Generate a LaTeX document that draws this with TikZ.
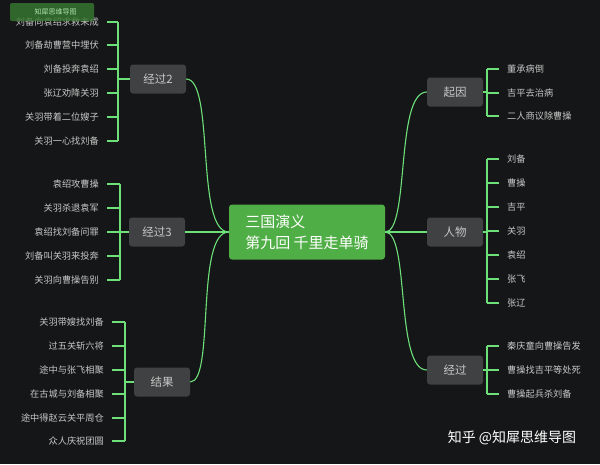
\documentclass[tikz,border=0pt]{standalone}
\usepackage{fontspec}
\setmainfont{Noto Sans CJK SC}
\usetikzlibrary{positioning}
\definecolor{bgdark}{HTML}{151617}
\definecolor{linegreen}{HTML}{6EE07A}
\definecolor{topicgray}{HTML}{404142}
\definecolor{maingreen}{HTML}{4FAE45}
\definecolor{leafgray}{HTML}{C8C8C8}
\tikzset{
  topic/.style={fill=topicgray, rounded corners=3pt, minimum width=56pt, minimum height=29pt, text=leafgray, font=\fontsize{11.5}{11.5}\selectfont},
  leaf/.style={text=leafgray, font=\fontsize{9.2}{9.5}\selectfont, inner sep=1pt},
  link/.style={draw=linegreen, line width=1.1pt},
}
\begin{document}
\begin{tikzpicture}[x=1pt, y=-1pt]
  \fill[bgdark] (0,0) rectangle (600,464);
  \useasboundingbox (0,0) rectangle (600,464);
  % centre
  \node[fill=maingreen, rounded corners=3pt, minimum width=156pt, minimum height=55pt, text=white, align=left, font=\fontsize{15}{21}\selectfont] (title) at (307,232) {三国演义\\第九回 千里走单骑};
  % topics
  \node[topic] (jg2) at (158,79) {经过2};
  \node[topic] (jg3) at (157,232) {经过3};
  \node[topic] (jieguo) at (162,382) {结果};
  \node[topic] (qiyin) at (455,92) {起因};
  \node[topic] (renwu) at (455,232) {人物};
  \node[topic] (jg) at (455,370) {经过};
  % main links
  \draw[link] (title.west) .. controls (195,232) and (215,79) .. (jg2.east);
  \draw[link] (title.west) -- (jg3.east);
  \draw[link] (title.west) .. controls (195,232) and (215,382) .. (jieguo.east);
  \draw[link] (title.east) .. controls (410,232) and (395,92) .. (qiyin.west);
  \draw[link] (title.east) -- (renwu.west);
  \draw[link] (title.east) .. controls (410,232) and (395,370) .. (jg.west);
  % left branches
  \foreach \topic/\bx/\tx/\list in {
      jg2/118/100/{22/刘备向袁绍求救未成,45/刘备劫曹营中埋伏,69/刘备投奔袁绍,93/张辽劝降关羽,117/关羽带着二位嫂子,141/关羽一心找刘备},
      jg3/120/100/{184/袁绍攻曹操,208/关羽杀退袁军,232/袁绍找刘备问罪,256/刘备叫关羽来投奔,280/关羽向曹操告别},
      jieguo/125/105/{322/关羽带嫂找刘备,346/过五关斩六将,370/途中与张飞相聚,394/在古城与刘备相聚,418/途中得赵云关平周仓,441/众人庆祝团圆}} {
    \coordinate (\topic-hub) at (\bx,0 |- \topic.west);
    \draw[link] (\topic.west) -- (\topic-hub);
    \foreach \y/\txt [count=\i] in \list {
      \node[leaf, anchor=east] (\topic-\i) at (\tx,\y) {\txt};
      \draw[link] (\bx,\y) -- (\tx+7,\y);
    }
  }
  \draw[link] (118,22) -- (118,141);
  \draw[link] (120,184) -- (120,280);
  \draw[link] (125,322) -- (125,441);
  % right branches
  \foreach \topic/\bx/\tx/\list in {
      qiyin/487/506/{69/董承病倒,93/吉平去治病,116/二人商议除曹操},
      renwu/487/506/{159/刘备,183/曹操,207/吉平,231/关羽,255/袁绍,279/张飞,303/张辽},
      jg/487/506/{346/秦庆童向曹操告发,370/曹操找吉平等处死,394/曹操起兵杀刘备}} {
    \coordinate (\topic-hub) at (\bx,0 |- \topic.east);
    \draw[link] (\topic.east) -- (\topic-hub);
    \foreach \y/\txt [count=\i] in \list {
      \node[leaf, anchor=west] (\topic-\i) at (\tx,\y) {\txt};
      \draw[link] (\bx,\y) -- (\tx-7,\y);
    }
  }
  \draw[link] (487,69) -- (487,116);
  \draw[link] (487,159) -- (487,303);
  \draw[link] (487,346) -- (487,394);
  % marks
  \node[fill=maingreen!70!black, opacity=0.8, rounded corners=2pt, minimum width=84pt, minimum height=18pt, text=white!80!green, font=\fontsize{7}{7}\selectfont] (stamp) at (52,12) {\quad 知犀思维导图};
  \node[text=white, font=\fontsize{14}{14}\selectfont] (credit) at (512,438) {知乎 @知犀思维导图};
\end{tikzpicture}
\end{document}
